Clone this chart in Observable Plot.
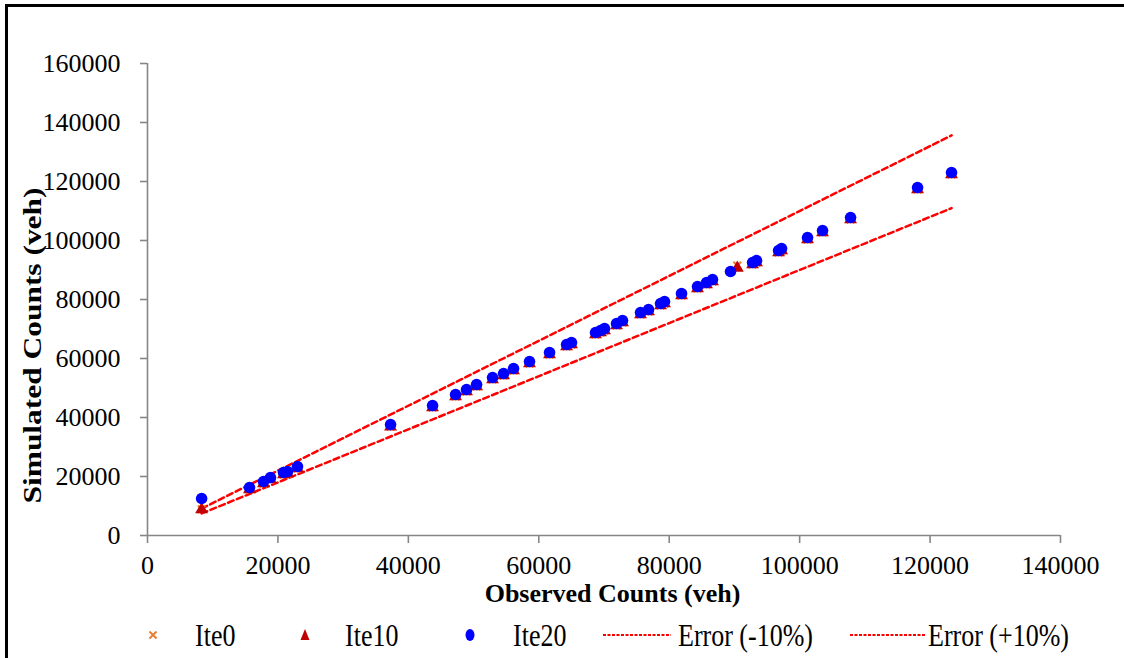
<!DOCTYPE html>
<html>
<head>
<meta charset="utf-8">
<script src="https://cdn.jsdelivr.net/npm/d3@7"></script>
<script src="https://cdn.jsdelivr.net/npm/@observablehq/plot@0.6"></script>
<style>
  html, body { margin: 0; padding: 0; background: #fff; }
  #page { position: relative; width: 1124px; height: 658px; overflow: hidden; font-family: "Liberation Serif", "Times New Roman", serif; }
  #frame { position: absolute; left: 5px; top: 4px; width: 1300px; height: 800px; border-left: 3px solid #000; border-top: 3px solid #000; box-sizing: border-box; }
  #chart { position: absolute; left: 0; top: 0; }
  #legend { position: absolute; left: 0; top: 610px; }
</style>
</head>
<body>
<div id="page">
  <div id="frame"></div>
  <div id="chart"></div>
  <svg id="legend" width="1124" height="48"></svg>
</div>
<script>
// ---- data ----
const observed = [8300, 15640, 17790, 18860, 20860, 21470, 23000, 37270, 43710, 47240, 48920, 50460, 52910, 54600, 56130, 58580, 61650, 64260, 65020, 68700, 69470, 70080, 71920, 72840, 75600, 76830, 78670, 79280, 81890, 84340, 85720, 86640, 89400, 92780, 93390, 96770, 97230, 101210, 103510, 107810, 118080, 123290];
const observedIte0and10 = [8300, 15640, 17790, 18860, 20860, 21470, 23000, 37270, 43710, 47240, 48920, 50460, 52910, 54600, 56130, 58580, 61650, 64260, 65020, 68700, 69470, 70080, 71920, 72840, 75600, 76830, 78670, 79280, 81890, 84340, 85720, 86640, 90440, 92780, 93390, 96770, 97230, 101210, 103510, 107810, 118080, 123290];
const ite20 = [12540, 16270, 18300, 19660, 21360, 21700, 23390, 37630, 44070, 47800, 49490, 51190, 53560, 54920, 56610, 58980, 62030, 64750, 65420, 68810, 69490, 70170, 71870, 72880, 75590, 76610, 78640, 79320, 82030, 84410, 85760, 86780, 89490, 92540, 93220, 96610, 97290, 101020, 103390, 107800, 117970, 123050];
const ite10 = [8800, 15600, 17600, 18950, 20650, 21000, 22700, 36900, 43350, 47100, 48800, 50500, 52850, 54200, 55900, 58300, 61350, 64050, 64700, 68100, 68800, 69450, 71150, 72200, 74900, 75900, 77950, 78600, 81350, 83700, 85050, 86100, 90700, 91850, 92500, 95900, 96600, 100300, 102700, 107100, 117300, 122350];
const ite0 = [8900, 15650, 17650, 19000, 20700, 21050, 22750, 36950, 43400, 47150, 48850, 50550, 52900, 54250, 55950, 58350, 61400, 64100, 64750, 68150, 68850, 69500, 71200, 72250, 74950, 75950, 78000, 78650, 81400, 83750, 85100, 86150, 91500, 91900, 92550, 95950, 96650, 100350, 102750, 107150, 117350, 122400];
const errorX = [8300, 123300];
const errorLow = [7470, 110970];
const errorHigh = [9130, 135630];
const xTicks = [0, 20000, 40000, 60000, 80000, 100000, 120000, 140000];
const yTicks = [0, 20000, 40000, 60000, 80000, 100000, 120000, 140000, 160000];
const seriesNames = ["Ite0", "Ite10", "Ite20", "Error (-10%)", "Error (+10%)"];
const xTitle = "Observed Counts (veh)";
const yTitle = "Simulated Counts (veh)";

const colors = { ite0: "#ED7D31", ite10: "#C00000", ite20: "#0000FF", err: "#FF0000" };
const axisGrey = "#868686";

const rows0 = observedIte0and10.map((x, i) => ({ x, y: ite0[i] }));
const rows10 = observedIte0and10.map((x, i) => ({ x, y: ite10[i] }));
const rows20 = observed.map((x, i) => ({ x, y: ite20[i] }));
const lowRows = errorX.map((x, i) => ({ x, y: errorLow[i] }));
const highRows = errorX.map((x, i) => ({ x, y: errorHigh[i] }));

const chart = Plot.plot({
  width: 1124,
  height: 610,
  marginLeft: 147,
  marginRight: 64,
  marginTop: 63,
  marginBottom: 75,
  style: { fontFamily: "'Liberation Serif', 'Times New Roman', serif", fontSize: "26px", background: "transparent", color: "#000" },
  x: { domain: [0, 140000], axis: null },
  y: { domain: [0, 160000], axis: null },
  marks: [
    Plot.ruleY([0], { x1: 0, x2: 140000, stroke: axisGrey, strokeWidth: 1.6 }),
    Plot.ruleX([0], { y1: 0, y2: 160000, stroke: axisGrey, strokeWidth: 1.6 }),
    Plot.axisX({ ticks: xTicks, tickSize: 8, tickPadding: 12, tickFormat: d => String(d), stroke: axisGrey, strokeWidth: 1.6, fill: "#000", fontSize: 26, label: null }),
    Plot.axisY({ ticks: yTicks, tickSize: 7, tickPadding: 20, tickFormat: d => String(d), stroke: axisGrey, strokeWidth: 1.6, fill: "#000", fontSize: 26, label: null }),
    Plot.line(lowRows, { x: "x", y: "y", stroke: colors.err, strokeWidth: 2.5, strokeDasharray: "6,3.5" }),
    Plot.line(highRows, { x: "x", y: "y", stroke: colors.err, strokeWidth: 2.5, strokeDasharray: "6,3.5" }),
    Plot.dot(rows0, { x: "x", y: "y", symbol: "times", r: 3.6, stroke: colors.ite0, strokeWidth: 2 }),
    Plot.dot(rows10, { x: "x", y: "y", symbol: "triangle", r: 4.8, fill: colors.ite10, stroke: "none" }),
    Plot.dot(rows20, { x: "x", y: "y", symbol: "circle", r: 5.8, fill: colors.ite20, stroke: "none" }),
    Plot.text([xTitle], { frameAnchor: "bottom", dx: 8.5, dy: 66, fontSize: 26, fontWeight: "bold", fill: "#000" }),
    Plot.text([yTitle], { frameAnchor: "left", rotate: -90, textAnchor: "start", dx: -115, dy: 204, fontSize: 26, fontWeight: "bold", fill: "#000" })
  ]
});
document.getElementById("chart").appendChild(chart);

// stretch the y title along its length like the reference
d3.select(chart).selectAll("text").filter(function () { return this.textContent === yTitle; })
  .attr("textLength", 316).attr("lengthAdjust", "spacingAndGlyphs");

// ---- legend ----
const lg = d3.select("#legend");
const cy = 25;
const fontFamily = "'Liberation Serif', 'Times New Roman', serif";
// Ite0 marker (x)
lg.append("path").attr("d", "M-3.5,-3.5L3.5,3.5M-3.5,3.5L3.5,-3.5")
  .attr("transform", `translate(153,${cy})`).attr("stroke", colors.ite0).attr("stroke-width", 2).attr("fill", "none");
// Ite10 marker (triangle)
lg.append("path").attr("d", "M0,-6L4.5,5L-4.5,5Z").attr("transform", `translate(305,${cy})`).attr("fill", colors.ite10);
// Ite20 marker (circle)
lg.append("ellipse").attr("cx", 470).attr("cy", cy).attr("rx", 4.5).attr("ry", 6).attr("fill", colors.ite20);
// Error lines
[[603, 671], [850, 925]].forEach(([a, b]) => {
  lg.append("line").attr("x1", a).attr("x2", b).attr("y1", cy).attr("y2", cy)
    .attr("stroke", colors.err).attr("stroke-width", 2).attr("stroke-dasharray", "3,1.5");
});
const textX = [195, 345, 513, 678, 928];
seriesNames.forEach((name, i) => {
  lg.append("text").text(name)
    .attr("transform", `translate(${textX[i]},${cy + 10.5}) scale(1,1.22)`)
    .attr("font-family", fontFamily).attr("font-size", 26).attr("fill", "#000");
});
</script>
</body>
</html>
